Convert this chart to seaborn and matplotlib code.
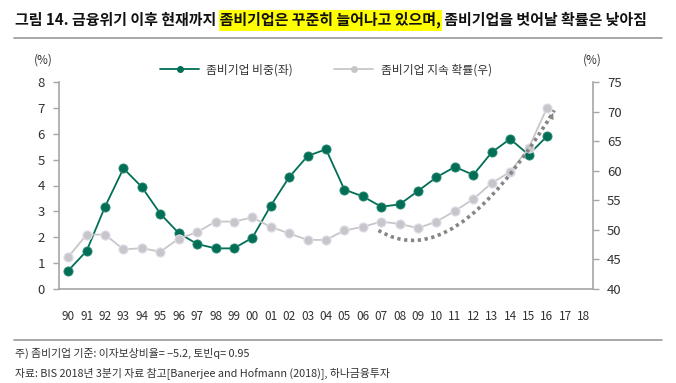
import matplotlib.pyplot as plt
import pandas as pd
import seaborn as sns
from matplotlib.lines import Line2D
from matplotlib.patches import PathPatch, Rectangle
from matplotlib.path import Path

years = ["90", "91", "92", "93", "94", "95", "96", "97", "98", "99",
         "00", "01", "02", "03", "04", "05", "06", "07", "08", "09",
         "10", "11", "12", "13", "14", "15", "16", "17", "18"]
data_years = years[:27]
zombie_share = [0.71, 1.47, 3.18, 4.66, 3.94, 2.91, 2.16, 1.74, 1.57, 1.57,
                1.98, 3.22, 4.32, 5.14, 5.40, 3.84, 3.58, 3.18, 3.27, 3.79,
                4.32, 4.72, 4.41, 5.28, 5.80, 5.19, 5.90]
zombie_persist = [45.4, 49.2, 49.2, 46.7, 46.9, 46.3, 48.5, 49.6, 51.4, 51.4,
                  52.1, 50.5, 49.4, 48.3, 48.3, 49.9, 50.5, 51.4, 51.0, 50.3,
                  51.4, 53.2, 55.2, 57.9, 59.8, 63.8, 70.6]
# dotted trend arrow (bezier control points, right axis units)
trend_curve = [(16.85, 49.9), (19.5, 45.0), (22.5, 50.5), (26.4, 70.2)]

title_parts = ["그림 14. 금융위기 이후 현재까지 ",
               "좀비기업은 꾸준히 늘어나고 있으며,",
               " 좀비기업을 벗어날 확률은 낮아짐"]
note1 = "주) 좀비기업 기준: 이자보상비율= −5.2, 토빈q= 0.95"
note2 = "자료: BIS 2018년 3분기 자료 참고[Banerjee and Hofmann (2018)], 하나금융투자"

GREEN = "#006f56"
GRAY = "#c8c6c9"
SPINE = "#a6a6a6"
TXT = "#333333"

sns.set_style("white")
plt.rcParams["font.family"] = ["Noto Sans CJK KR", "DejaVu Sans"]

W, H = 676, 383
fig = plt.figure(figsize=(W / 100, H / 100), dpi=100)
ax = fig.add_axes([59 / W, 1 - 289 / H, 534 / W, 207 / H])
ax2 = ax.twinx()

df = pd.DataFrame({"year": data_years, "share": zombie_share, "persist": zombie_persist})

sns.pointplot(data=df, x="year", y="share", order=years, color=GREEN, errorbar=None,
              markers="o", markersize=6.6, linewidth=1.3, ax=ax,
              markeredgecolor="#2f8a73", markeredgewidth=0.6)
sns.pointplot(data=df, x="year", y="persist", order=years, color=GRAY, errorbar=None,
              markers="o", markersize=6.6, linewidth=1.3, ax=ax2,
              markeredgecolor="#e2def0", markeredgewidth=0.8)

ax.set_xlim(-0.5, len(years) - 0.5)
ax.set_ylim(0, 8)
ax2.set_ylim(40, 75)
ax.set_yticks(range(0, 9))
ax2.set_yticks(range(40, 76, 5))
ax.set_xlabel("")
ax.set_ylabel("")
ax2.set_ylabel("")

ax.set_xticks(range(len(years)))
ax.set_xticklabels(years)
ax.set_xticks([i - 0.5 for i in range(len(years) + 1)], minor=True)
ax.tick_params(axis="x", which="major", length=0, pad=15, labelsize=8.5, colors=TXT)
ax.tick_params(axis="x", which="minor", length=4, width=1, color=SPINE, direction="out")
ax.tick_params(axis="y", length=4, width=1, color=SPINE, labelsize=9.5, labelcolor=TXT, pad=6)
ax2.tick_params(axis="y", length=4, width=1, color=SPINE, labelsize=9.5, labelcolor=TXT, pad=6)

for s in ["top", "right"]:
    ax.spines[s].set_visible(False)
for s in ["top", "left", "bottom"]:
    ax2.spines[s].set_visible(False)
for a, s in [(ax, "left"), (ax, "bottom"), (ax2, "right")]:
    a.spines[s].set_color(SPINE)
    a.spines[s].set_linewidth(1.2)

# trend arrow
path = Path(trend_curve, [Path.MOVETO, Path.CURVE4, Path.CURVE4, Path.CURVE4])
ax2.add_patch(PathPatch(path, fill=False, ec="#858585", lw=2.6, ls=(0, (0.9, 1.0)),
                        capstyle="butt", zorder=5))
ax2.annotate("", xy=trend_curve[-1], xytext=(26.0, 67.4),
             arrowprops=dict(arrowstyle="-|>", color="#858585", lw=0.1, mutation_scale=11),
             zorder=6)

# legend
handles = [
    Line2D([], [], color=GREEN, lw=1.3, marker="o", markersize=4),
    Line2D([], [], color=GRAY, lw=1.3, marker="o", markersize=4),
]
ax.legend(handles, ["좀비기업 비중(좌)", "좀비기업 지속 확률(우)"], loc="center",
          bbox_to_anchor=(0.5, 1.06), ncol=2, frameon=False, fontsize=8.5,
          handlelength=3.3, columnspacing=3.5, handletextpad=0.6, labelcolor=TXT)

fig.text(43 / W, 1 - 60 / H, "(%)", ha="center", va="center", fontsize=8.5, color=TXT)
fig.text(592 / W, 1 - 60 / H, "(%)", ha="center", va="center", fontsize=8.5, color=TXT)

# title with highlighted middle part
fig.canvas.draw()
r = fig.canvas.get_renderer()


def text_w(s, **kw):
    t = fig.text(0, 0, s + "|", **kw)
    t2 = fig.text(0, 0, "|", **kw)
    w = t.get_window_extent(r).width - t2.get_window_extent(r).width
    t.remove()
    t2.remove()
    return w


tkw = dict(fontsize=10.8, fontweight="bold", color="#111111")
x0 = 15
ty = 1 - 20 / H
w1 = text_w(title_parts[0], **tkw)
w2 = text_w(title_parts[1], **tkw)
fig.patches.append(Rectangle(((x0 + w1 - 1) / W, 1 - 31 / H), (w2 + 2) / W, 21 / H,
                             transform=fig.transFigure, fc="#ffff00", ec="none", zorder=0))
fig.text(x0 / W, ty, "".join(title_parts), ha="left", va="center", zorder=2, **tkw)

fig.add_artist(Line2D([14 / W, 662 / W], [1 - 38 / H, 1 - 38 / H], color="#9a9a9a", lw=1.2))
fig.add_artist(Line2D([14 / W, 662 / W], [1 - 340 / H, 1 - 340 / H], color="#9a9a9a", lw=1.2))

fig.text(15 / W, 1 - 353 / H, note1, ha="left", va="center", fontsize=7.8, color=TXT)
fig.text(15 / W, 1 - 373 / H, note2, ha="left", va="center", fontsize=7.8, color=TXT)

fig.savefig("out.png", dpi=100)
